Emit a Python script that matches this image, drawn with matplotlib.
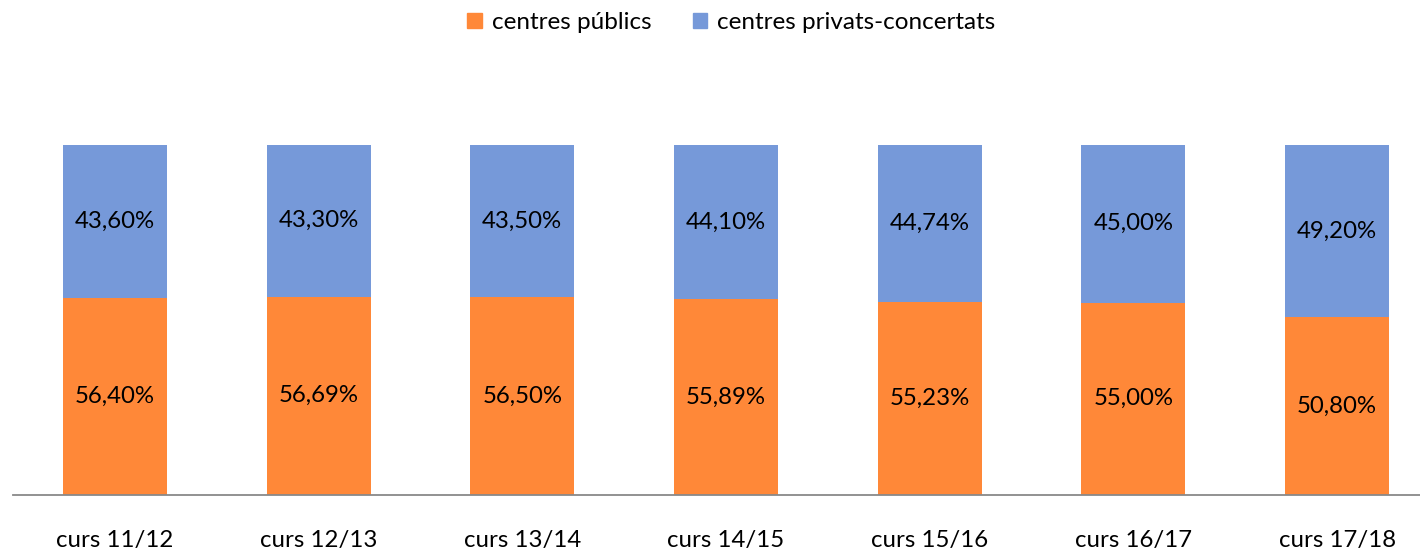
import numpy as np
import matplotlib.pyplot as plt
from matplotlib.patches import Patch

plt.rcParams['font.family'] = ['Lato', 'DejaVu Sans']

# data
cursos = ['curs 11/12', 'curs 12/13', 'curs 13/14', 'curs 14/15',
          'curs 15/16', 'curs 16/17', 'curs 17/18']
publics = [56.40, 56.69, 56.50, 55.89, 55.23, 55.00, 50.80]
privats = [43.60, 43.30, 43.50, 44.10, 44.74, 45.00, 49.20]

col_pub = '#FF8838'
col_priv = '#7699D9'

pub = np.array(publics)
priv = np.array(privats)
tot = pub + priv
# 100% stacked columns
pub_n = pub / tot
priv_n = priv / tot

fig = plt.figure(figsize=(14.2, 5.5), dpi=100)
ax = fig.add_axes([13 / 1420, 55 / 550, 1407 / 1420, 350 / 550])

x = np.arange(len(cursos))
w = 0.51
ax.bar(x, pub_n, w, color=col_pub, edgecolor='none')
ax.bar(x, priv_n, w, bottom=pub_n, color=col_priv, edgecolor='none')

def fmt(v):
    return ('%.2f' % v).replace('.', ',') + '%'

fs = 17.3
for i in range(len(x)):
    ax.text(x[i], pub_n[i] / 2, fmt(pub[i]), ha='center', va='center',
            fontsize=fs, color='black')
    ax.text(x[i], pub_n[i] + priv_n[i] / 2, fmt(priv[i]), ha='center',
            va='center', fontsize=fs, color='black')

ax.set_xlim(-0.5, 6.407)
ax.set_ylim(0, 1)
ax.set_xticks(x)
ax.set_xticklabels(cursos, fontsize=fs)
ax.tick_params(axis='x', length=0, pad=25)
ax.set_yticks([])
for s in ['top', 'right', 'left']:
    ax.spines[s].set_visible(False)
ax.spines['bottom'].set_color('#898989')
ax.spines['bottom'].set_linewidth(1.3)

handles = [Patch(color=col_pub, label='centres públics'),
           Patch(color=col_priv, label='centres privats-concertats')]
fig.legend(handles=handles, loc='upper center', bbox_to_anchor=(0.515, 1.018),
           ncol=2, frameon=False, fontsize=17.5, handlelength=0.6,
           handleheight=0.6, handletextpad=0.4, columnspacing=1.7)

fig.savefig('out.png', dpi=100)
